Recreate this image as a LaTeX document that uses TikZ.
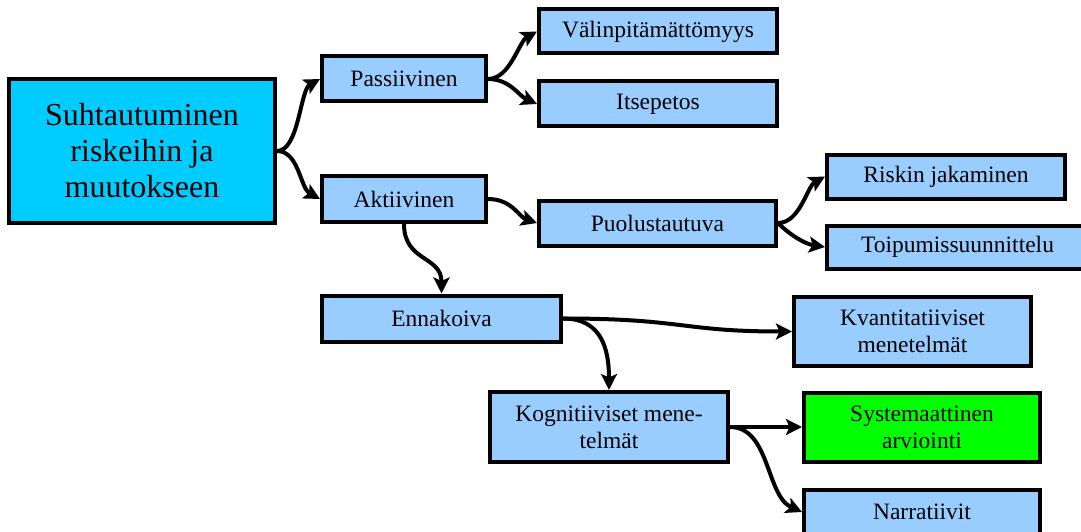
\documentclass[tikz,border=0pt]{standalone}
\usepackage{fontspec}
\setmainfont{Liberation Serif}
\usetikzlibrary{arrows.meta}
\definecolor{boxblue}{RGB}{153,204,255}
\definecolor{maincyan}{RGB}{0,204,255}
\definecolor{boxgreen}{RGB}{0,255,0}
\tikzset{
  box/.style={draw=black, line width=4pt, fill=boxblue, rectangle, inner sep=0pt,
    align=center, font=\fontsize{23.5}{27}\selectfont},
  conn/.style={line width=4pt, -{Stealth[length=16pt,width=16pt,inset=3.5pt]}}
}
\begin{document}
\begin{tikzpicture}[x=1pt,y=-1pt]
\useasboundingbox (0,0) rectangle (1081,532);
\clip (0,0) rectangle (1081,532);
\fill[white] (0,0) rectangle (1081,532);

\node[box, fill=maincyan, minimum width=266pt, minimum height=144pt,
  font=\fontsize{32}{36}\selectfont] (main) at (142,151)
  {Suhtautuminen\\riskeihin ja\\muutokseen};
\node[box, minimum width=164pt, minimum height=45pt] (pass) at (404,79) {Passiivinen};
\node[box, minimum width=164pt, minimum height=46pt] (akt) at (404,199) {Aktiivinen};
\node[box, minimum width=238pt, minimum height=44pt] (val) at (658,31.5) {Välinpitämättömyys};
\node[box, minimum width=238pt, minimum height=45pt] (its) at (658,104) {Itsepetos};
\node[box, minimum width=237pt, minimum height=45pt] (puo) at (657.5,223) {Puolustautuva};
\node[box, minimum width=238pt, minimum height=44pt] (ris) at (946,176.5) {Riskin jakaminen};
\node[box, minimum width=261pt, minimum height=43pt] (toi) at (957.5,247) {Toipumissuunnittelu};
\node[box, minimum width=239pt, minimum height=46pt] (enn) at (441.5,318.5) {Ennakoiva};
\node[box, minimum width=237pt, minimum height=69pt] (kva) at (912.5,331.5) {Kvantitatiiviset\\menetelmät};
\node[box, minimum width=238pt, minimum height=70pt] (kog) at (609,427) {Kognitiiviset mene-\\telmät};
\node[box, fill=boxgreen, minimum width=236pt, minimum height=69pt] (sys) at (922,427) {Systemaattinen\\arviointi};
\node[box, minimum width=236pt, minimum height=45pt] (nar) at (922,512) {Narratiivit};

\draw[conn] (main.east) .. controls +(22,0) and +(-20,11) .. (pass.west);
\draw[conn] (main.east) .. controls +(22,0) and +(-20,-11) .. (akt.west);
\draw[conn] (pass.east) .. controls +(22,0) and +(-18,10) .. (val.west);
\draw[conn] (pass.east) .. controls +(22,0) and +(-18,-8) .. (its.west);
\draw[conn] (akt.east) .. controls +(24,0) and +(-18,-6) .. (puo.west);
\draw[conn] (puo.east) .. controls +(22,0) and +(-18,10) .. (ris.west);
\draw[conn] (puo.east) .. controls +(12,12) and +(-20,-3) .. (toi.west);
\draw[conn] (akt.south) .. controls +(0,38) and +(0,-38) .. (enn.north);
\draw[conn] (enn.east) .. controls +(120,0) and +(-110,0) .. (kva.west);
\draw[conn] (enn.east) .. controls +(38,0) and +(0,-42) .. (kog.north);
\draw[conn] (kog.east) -- (sys.west);
\draw[conn] (kog.east) .. controls +(40,0) and +(-36,-16) .. (nar.west);
\end{tikzpicture}
\end{document}
